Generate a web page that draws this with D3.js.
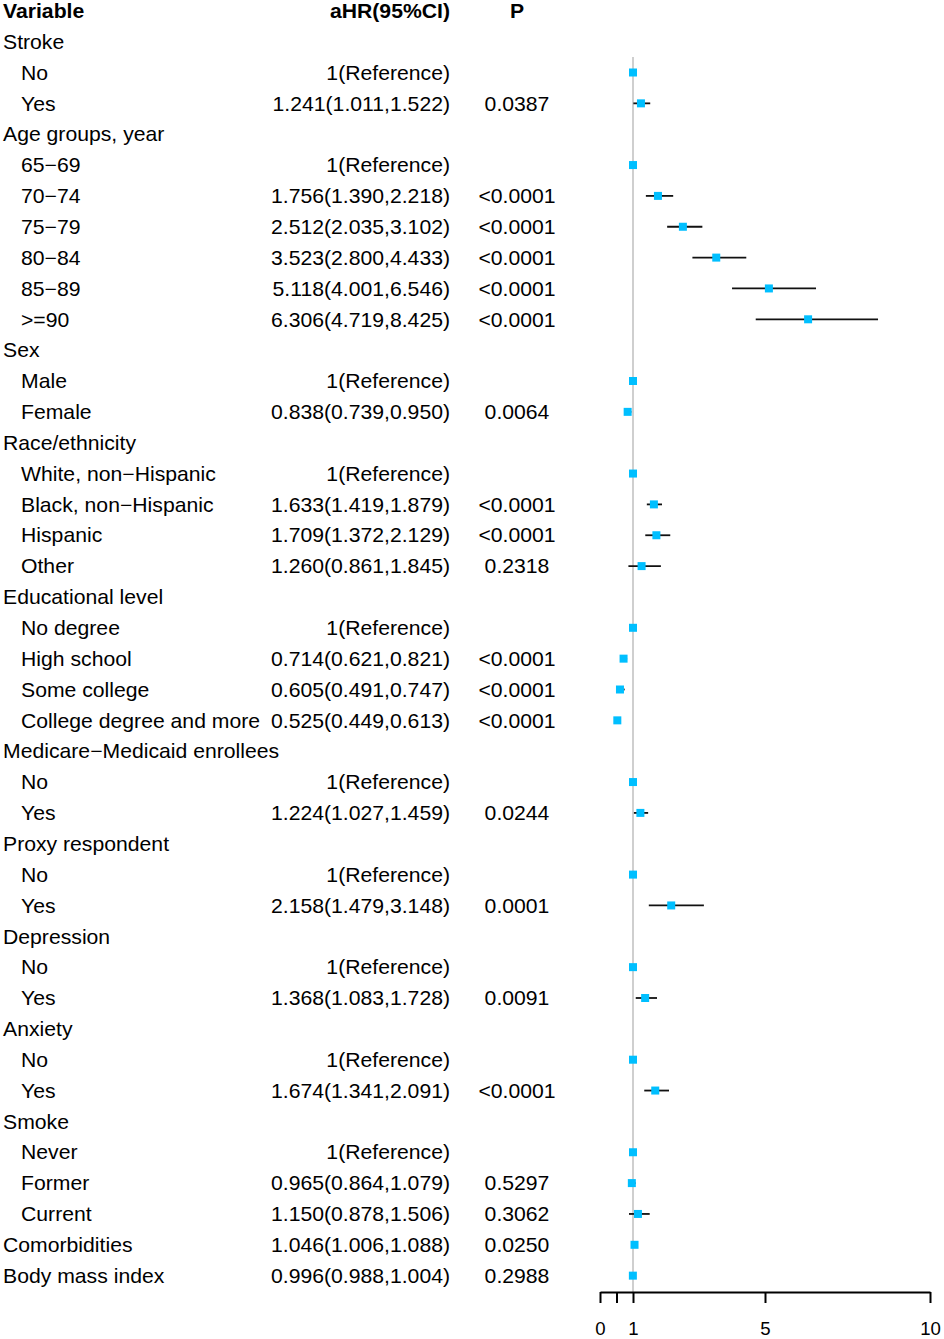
<!DOCTYPE html>
<html>
<head>
<meta charset="utf-8">
<script src="https://cdn.jsdelivr.net/npm/d3@7"></script>
<style>
  html, body { margin: 0; padding: 0; background: #fff; }
  svg { display: block; }
  text { font-family: "Liberation Sans", Arial, Helvetica, sans-serif; fill: #000; }
</style>
</head>
<body>
<svg id="chart" width="944" height="1339"></svg>
<script>
// ---- Data ----
const labels = [
  "Stroke", "No", "Yes",
  "Age groups, year", "65\u221269", "70\u221274", "75\u221279", "80\u221284", "85\u221289", ">=90",
  "Sex", "Male", "Female",
  "Race/ethnicity", "White, non\u2212Hispanic", "Black, non\u2212Hispanic", "Hispanic", "Other",
  "Educational level", "No degree", "High school", "Some college", "College degree and more",
  "Medicare\u2212Medicaid enrollees", "No", "Yes",
  "Proxy respondent", "No", "Yes",
  "Depression", "No", "Yes",
  "Anxiety", "No", "Yes",
  "Smoke", "Never", "Former", "Current",
  "Comorbidities", "Body mass index"
];
const indent = [
  0, 1, 1,
  0, 1, 1, 1, 1, 1, 1,
  0, 1, 1,
  0, 1, 1, 1, 1,
  0, 1, 1, 1, 1,
  0, 1, 1,
  0, 1, 1,
  0, 1, 1,
  0, 1, 1,
  0, 1, 1, 1,
  0, 0
];
// "ref" = reference category (HR = 1), null = group heading
const hr = [
  null, "ref", 1.241,
  null, "ref", 1.756, 2.512, 3.523, 5.118, 6.306,
  null, "ref", 0.838,
  null, "ref", 1.633, 1.709, 1.260,
  null, "ref", 0.714, 0.605, 0.525,
  null, "ref", 1.224,
  null, "ref", 2.158,
  null, "ref", 1.368,
  null, "ref", 1.674,
  null, "ref", 0.965, 1.150,
  1.046, 0.996
];
const lower = [
  null, null, 1.011,
  null, null, 1.390, 2.035, 2.800, 4.001, 4.719,
  null, null, 0.739,
  null, null, 1.419, 1.372, 0.861,
  null, null, 0.621, 0.491, 0.449,
  null, null, 1.027,
  null, null, 1.479,
  null, null, 1.083,
  null, null, 1.341,
  null, null, 0.864, 0.878,
  1.006, 0.988
];
const upper = [
  null, null, 1.522,
  null, null, 2.218, 3.102, 4.433, 6.546, 8.425,
  null, null, 0.950,
  null, null, 1.879, 2.129, 1.845,
  null, null, 0.821, 0.747, 0.613,
  null, null, 1.459,
  null, null, 3.148,
  null, null, 1.728,
  null, null, 2.091,
  null, null, 1.079, 1.506,
  1.088, 1.004
];
const pValues = [
  "", "", "0.0387",
  "", "", "<0.0001", "<0.0001", "<0.0001", "<0.0001", "<0.0001",
  "", "", "0.0064",
  "", "", "<0.0001", "<0.0001", "0.2318",
  "", "", "<0.0001", "<0.0001", "<0.0001",
  "", "", "0.0244",
  "", "", "0.0001",
  "", "", "0.0091",
  "", "", "<0.0001",
  "", "", "0.5297", "0.3062",
  "0.0250", "0.2988"
];
const headers = ["Variable", "aHR(95%CI)", "P"];
const xTicks = [0, 0.5, 1, 5, 10];
const xTickLabels = ["0", "", "1", "5", "10"];

// ---- Layout ----
const svg = d3.select("#chart");
const nRows = labels.length + 1; // + header row
const y = d3.scaleLinear().domain([0, nRows - 1]).range([10.8, 10.8 + (nRows - 1) * 30.85]);
const x = d3.scaleLinear().domain([0, 10]).range([600, 930]);
const fmt = d3.format(".3f");
const FS = 20, SX = 1.06, BASE = 7.2;
const axisY = 1292;

const rows = labels.map((lab, i) => ({
  row: i + 1, label: lab, indent: indent[i], hr: hr[i], lo: lower[i], hi: upper[i], p: pValues[i]
}));

function addText(g, str, tx, ty, anchor, bold) {
  g.append("text")
    .attr("transform", `translate(${tx},${ty}) scale(${SX},1)`)
    .attr("text-anchor", anchor)
    .style("font-size", FS + "px")
    .style("font-weight", bold ? "bold" : "normal")
    .text(str);
}

const tg = svg.append("g").attr("class", "table");
// headers
addText(tg, headers[0], 3, y(0) + BASE, "start", true);
addText(tg, headers[1], 450, y(0) + BASE, "end", true);
addText(tg, headers[2], 517, y(0) + BASE, "middle", true);

rows.forEach(d => {
  const by = y(d.row) + BASE;
  addText(tg, d.label, d.indent ? 21 : 3, by, "start", false);
  if (d.hr === "ref") addText(tg, "1(Reference)", 450, by, "end", false);
  else if (d.hr !== null) addText(tg, `${fmt(d.hr)}(${fmt(d.lo)},${fmt(d.hi)})`, 450, by, "end", false);
  if (d.p) addText(tg, d.p, 517, by, "middle", false);
});

// reference line at HR = 1
svg.append("line")
  .attr("x1", x(1)).attr("x2", x(1))
  .attr("y1", (y(1) + y(2)) / 2).attr("y2", axisY)
  .attr("stroke", "#cfcfcf").attr("stroke-width", 2);

// CI lines
const pts = rows.filter(d => d.hr !== null).map(d => ({
  row: d.row, hr: d.hr === "ref" ? 1 : d.hr, lo: d.lo, hi: d.hi
}));
svg.append("g").selectAll("line")
  .data(pts.filter(d => d.lo !== null))
  .join("line")
  .attr("x1", d => x(d.lo)).attr("x2", d => x(d.hi))
  .attr("y1", d => y(d.row)).attr("y2", d => y(d.row))
  .attr("stroke", "#111").attr("stroke-width", 1.8);

// point markers
const MS = 8;
svg.append("g").selectAll("rect")
  .data(pts)
  .join("rect")
  .attr("x", d => x(d.hr) - MS / 2).attr("y", d => y(d.row) - MS / 2)
  .attr("width", MS).attr("height", MS)
  .attr("fill", "#00BFFF");

// x axis
const axis = d3.axisBottom(x)
  .tickValues(xTicks)
  .tickFormat((v, i) => xTickLabels[i])
  .tickSize(11).tickSizeOuter(0).tickPadding(18.5);
const ag = svg.append("g").attr("transform", `translate(0,${axisY})`).call(axis);
ag.select(".domain").attr("stroke", "#000").attr("stroke-width", 2);
ag.selectAll(".tick line").attr("stroke", "#000").attr("stroke-width", 2);
ag.selectAll(".tick text")
  .attr("fill", "#000")
  .style("font-family", '"Liberation Sans", Arial, sans-serif')
  .style("font-size", "18.6px");
</script>
</body>
</html>
